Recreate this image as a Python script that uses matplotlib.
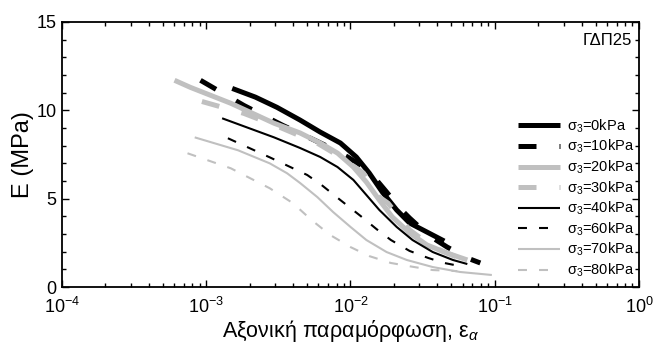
import matplotlib
matplotlib.use('Agg')
import numpy as np
import matplotlib.pyplot as plt
from matplotlib.ticker import LogLocator, MultipleLocator

plt.rcParams['font.family'] = ['Liberation Sans', 'DejaVu Sans']
plt.rcParams['mathtext.fontset'] = 'custom'
plt.rcParams['mathtext.rm'] = 'Liberation Sans'
plt.rcParams['mathtext.it'] = 'Liberation Sans:italic'

# log10(axial strain) and E (MPa)
x_0 = [-2.82, -2.66, -2.51, -2.35, -2.21, -2.07, -1.96, -1.87, -1.78, -1.68, -1.59, -1.47, -1.35]
E_0 = [11.24, 10.75, 10.17, 9.45, 8.77, 8.15, 7.36, 6.45, 5.38, 4.36, 3.62, 3.11, 2.60]

x_10 = [-3.04, -2.74, -2.47, -2.28, -2.18, -2.02, -1.93, -1.82, -1.75, -1.66, -1.59, -1.50, -1.44, -1.33, -1.19, -1.10]
E_10 = [11.70, 10.28, 9.15, 8.43, 8.04, 7.36, 6.90, 6.06, 5.38, 4.47, 3.90, 3.23, 2.83, 2.26, 1.64, 1.36]

x_20 = [-3.22, -3.11, -2.83, -2.53, -2.35, -2.21, -2.09, -1.98, -1.89, -1.80, -1.71, -1.59, -1.47, -1.33, -1.19]
E_20 = [11.70, 11.30, 10.40, 9.27, 8.72, 8.15, 7.58, 6.79, 5.94, 4.92, 3.96, 3.06, 2.38, 1.92, 1.53]

x_30 = [-3.03, -2.74, -2.49, -2.23, -2.07, -1.99, -1.91, -1.80, -1.74, -1.59, -1.43, -1.28, -1.17]
E_30 = [10.50, 9.83, 9.04, 8.14, 7.36, 6.90, 6.45, 5.09, 4.75, 3.23, 2.26, 1.75, 1.53]

x_40 = [-2.89, -2.53, -2.35, -2.21, -2.09, -1.98, -1.89, -1.80, -1.68, -1.57, -1.43, -1.29, -1.19]
E_40 = [9.55, 8.47, 7.87, 7.36, 6.79, 6.06, 5.21, 4.36, 3.40, 2.66, 1.98, 1.53, 1.30]

x_60 = [-2.85, -2.56, -2.30, -2.20, -2.07, -1.93, -1.82, -1.72, -1.59, -1.46, -1.35, -1.22]
E_60 = [8.42, 7.34, 6.34, 5.77, 4.92, 4.02, 3.28, 2.66, 2.04, 1.64, 1.36, 1.15]

x_70 = [-3.08, -2.78, -2.56, -2.44, -2.35, -2.23, -2.12, -2.00, -1.89, -1.75, -1.61, -1.43, -1.24, -1.02]
E_70 = [8.47, 7.74, 7.00, 6.44, 5.89, 5.09, 4.24, 3.40, 2.66, 1.98, 1.53, 1.13, 0.85, 0.68]

x_80 = [-3.13, -2.83, -2.56, -2.40, -2.27, -2.14, -2.00, -1.87, -1.72, -1.58, -1.43, -1.26]
E_80 = [7.57, 6.72, 5.59, 4.75, 3.79, 2.94, 2.26, 1.75, 1.36, 1.16, 0.96, 0.90]

labels = ['σ$_3$=0kPa', 'σ$_3$=10kPa', 'σ$_3$=20kPa', 'σ$_3$=30kPa',
          'σ$_3$=40kPa', 'σ$_3$=60kPa', 'σ$_3$=70kPa', 'σ$_3$=80kPa']

gray = '#c0c0c0'
series = [
    (x_0, E_0, 'black', 3.6, None),
    (x_10, E_10, 'black', 3.6, (3.6, 4.6)),
    (x_20, E_20, gray, 3.6, None),
    (x_30, E_30, gray, 3.6, (3.6, 4.6)),
    (x_40, E_40, 'black', 1.5, None),
    (x_60, E_60, 'black', 1.5, (4.3, 5.8)),
    (x_70, E_70, gray, 1.5, None),
    (x_80, E_80, gray, 1.5, (4.3, 5.8)),
]

fig = plt.figure(figsize=(6.61, 3.42), dpi=100)
ax = fig.add_axes([0.0938, 0.1608, 0.8729, 0.7749])

for (xs, ys, c, lw, dash), lab in zip(series, labels):
    line, = ax.plot(10 ** np.array(xs), ys, color=c, lw=lw, label=lab,
                    solid_capstyle='butt', solid_joinstyle='round')
    if dash is not None:
        line.set_dashes(dash)
        line.set_dash_capstyle('butt')
        line.set_dash_joinstyle('round')

ax.set_xscale('log')
ax.set_xlim(1e-4, 1)
ax.set_ylim(0, 15)
ax.xaxis.set_major_locator(LogLocator(base=10, numticks=10))
ax.xaxis.set_minor_locator(LogLocator(base=10, subs=np.arange(2, 10), numticks=50))
ax.yaxis.set_major_locator(MultipleLocator(5))
ax.yaxis.set_minor_locator(MultipleLocator(1))
ax.tick_params(which='both', direction='in', top=True, right=True, labelsize=13, width=1.0)
ax.tick_params(which='major', length=5)
ax.tick_params(which='minor', length=3)
ax.tick_params(axis='x', pad=7)
ax.tick_params(axis='y', pad=4)
for s in ax.spines.values():
    s.set_linewidth(1.3)

ax.set_ylabel('E (MPa)', fontsize=17, labelpad=2)
ax.set_xlabel(r'Αξονική παραμόρφωση, ε$_\alpha$', fontsize=15.5, labelpad=0.5)

ax.text(0.988, 0.93, 'ΓΔΠ25', transform=ax.transAxes, ha='right', va='center', fontsize=12)

ax.legend(loc='center right', bbox_to_anchor=(1.01, 0.335), frameon=False,
          fontsize=10.5, handlelength=2.9, handletextpad=0.5, labelspacing=0.22,
          borderpad=0.2)

fig.savefig('out.png', dpi=100)
